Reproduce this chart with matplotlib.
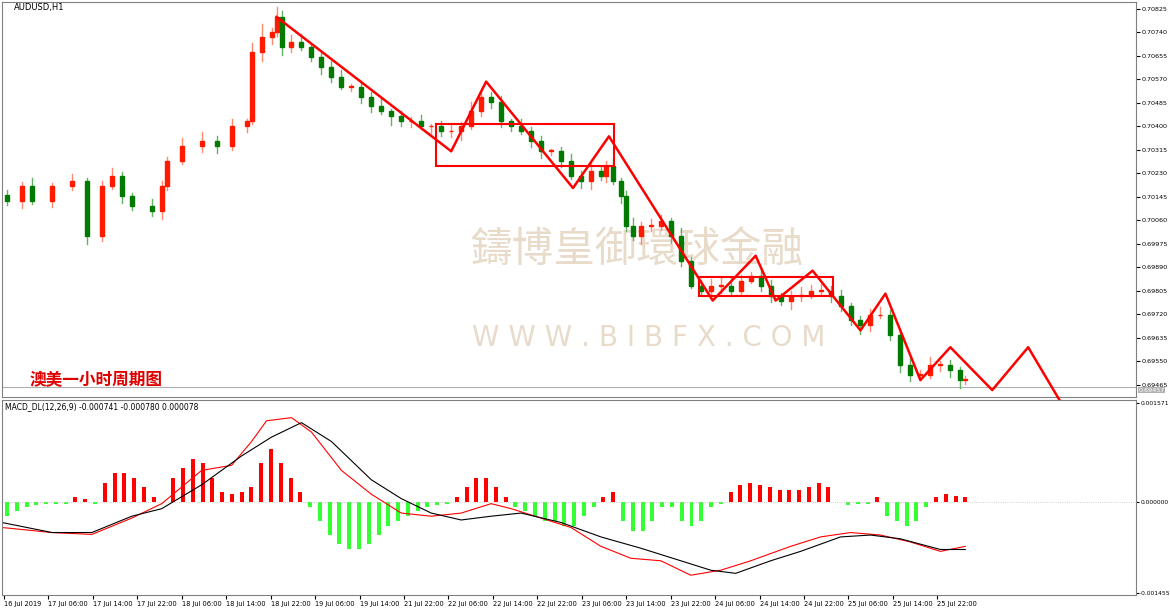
import numpy as np
import matplotlib
matplotlib.use("Agg")
import matplotlib.pyplot as plt
from matplotlib.patches import Rectangle

plt.rcParams['font.family'] = ['DejaVu Sans', 'Noto Sans CJK SC']

bar_x = [5,20,30,50,70,85,100,110,120,130,150,160,165,180,200,215,230,245,250,260,270,275,280,
         290,300,310,320,330,340,350,360,370,380,390,400,410,420,430,440,450,460,470,480,490,500,
         510,520,530,540,550,560,570,580,590,600,605,612,620,625,632,640,650,660,670,680,690,700,
         710,720,730,740,750,760,770,780,790,800,810,820,830,840,850,860,870,880,890,900,910,920,
         930,940,950,960,965]
closes = [0.70130,0.70184,0.70130,0.70184,0.70202,0.70004,0.70184,0.70220,0.70148,0.70112,0.70094,0.70184,0.70274,0.70328,0.70346,0.70328,0.70400,0.70418,0.70670,0.70724,0.70742,0.70796,0.70688,0.70706,0.70688,0.70652,0.70616,0.70580,0.70544,0.70544,0.70508,0.70472,0.70454,0.70436,0.70418,0.70418,0.70400,0.70400,0.70382,0.70382,0.70400,0.70454,0.70508,0.70490,0.70418,0.70400,0.70382,0.70346,0.70310,0.70310,0.70274,0.70220,0.70202,0.70238,0.70220,0.70256,0.70202,0.70148,0.70040,0.70004,0.70040,0.70040,0.70058,0.70004,0.69914,0.69824,0.69806,0.69824,0.69824,0.69806,0.69842,0.69860,0.69824,0.69788,0.69770,0.69788,0.69788,0.69806,0.69806,0.69788,0.69752,0.69698,0.69680,0.69716,0.69716,0.69644,0.69536,0.69500,0.69500,0.69536,0.69536,0.69518,0.69482,0.69482]
wick_up = [20,15,30,10,25,10,20,30,15,10,25,20,15,30,35,20,25,10,30,45,15,35,20,25,30,10,15,20,25,10,20,15,30,10,20,15,25,10,20,30,15,35,25,15,20,10,25,15,20,10,15,25,20,30,15,20,25,10,20,30,15,25,20,10,30,15,20,25,35,30,20,15,25,20,10,15,30,20,25,15,20,10,15,25,30,20,15,25,20,30,15,20,10,15]
wick_dn = [15,25,10,20,15,30,20,10,25,15,20,30,15,10,20,25,15,20,10,35,25,15,30,20,10,15,25,20,10,15,25,20,10,30,15,20,10,25,15,20,30,10,15,25,20,15,10,20,25,15,20,10,25,30,15,20,10,25,20,15,30,20,15,25,20,10,15,30,25,20,15,10,20,25,15,30,20,10,15,25,20,15,30,20,10,15,25,20,15,10,20,25,30,15]
price_now = 0.69457

hist_e5 = [-23,-15,-8,-5,-3,-3,-3,8,5,-3,30,46,46,38,23,8,0,38,53,68,61,38,15,12,15,23,61,84,61,38,15,-8,-30,-53,-68,-76,-76,-68,-53,-38,-30,-23,-15,-8,-5,-3,8,23,38,38,23,8,-8,-15,-23,-30,-30,-38,-38,-23,-8,8,15,-30,-46,-46,-30,-8,-8,-30,-38,-30,-8,-3,15,27,30,27,23,18,18,18,23,30,23,0,-5,-3,-3,8,-23,-30,-38,-30,-8,8,12,9,8]
macd_x = [0,50,90,130,160,200,230,250,265,290,310,340,370,400,430,460,490,510,540,570,600,630,660,690,720,750,790,820,850,880,910,940,965]
macd_main = [-0.00041,-0.00049,-0.00052,-0.00026,-0.00003,0.00050,0.00058,0.00096,0.00129,0.00134,0.00111,0.00050,0.00012,-0.00018,-0.00023,-0.00018,-0.00003,-0.00011,-0.00026,-0.00041,-0.00071,-0.00090,-0.00094,-0.00117,-0.00109,-0.00094,-0.00071,-0.00056,-0.00049,-0.00053,-0.00064,-0.00079,-0.00071]
sig_x = [0,50,90,130,160,200,240,270,300,330,370,400,430,460,490,520,560,600,640,680,710,735,770,800,840,870,900,940,965]
macd_signal = [-0.00033,-0.00049,-0.00049,-0.00023,-0.00011,0.00027,0.00073,0.00103,0.00126,0.00096,0.00035,0.00005,-0.00018,-0.00029,-0.00023,-0.00018,-0.00033,-0.00056,-0.00074,-0.00094,-0.00109,-0.00114,-0.00094,-0.00079,-0.00056,-0.00053,-0.00059,-0.00076,-0.00076]

zig_x = [275,450,485,572,608,712,755,775,812,860,885,920,950,992,1028,1070]
zig_p = [0.70796,0.70310,0.70562,0.70177,0.70364,0.69770,0.69932,0.69770,0.69878,0.69662,0.69795,0.69482,0.69601,0.69446,0.69601,0.69345]
rect1 = (435, 0.70256, 178, 0.00151)
rect2 = (698, 0.69788, 134, 0.00068)

yticks = [0.70825,0.70740,0.70655,0.70570,0.70485,0.70400,0.70315,0.70230,0.70145,0.70060,0.69975,0.69890,0.69805,0.69720,0.69635,0.69550,0.69465]
xlabels = ["16 Jul 2019","17 Jul 06:00","17 Jul 14:00","17 Jul 22:00","18 Jul 06:00","18 Jul 14:00","18 Jul 22:00","19 Jul 06:00","19 Jul 14:00","21 Jul 22:00","22 Jul 06:00","22 Jul 14:00","22 Jul 22:00","23 Jul 06:00","23 Jul 14:00","23 Jul 22:00","24 Jul 06:00","24 Jul 14:00","24 Jul 22:00","25 Jul 06:00","25 Jul 14:00","25 Jul 22:00"]

W, H = 1170, 614
fig = plt.figure(figsize=(W/100, H/100), dpi=100)
R = 1136
ax = fig.add_axes([2/W, 1-397/H, (R-2)/W, 395/H])
ax2 = fig.add_axes([2/W, 1-595/H, (R-2)/W, 195/H])
for a in (ax, ax2):
    a.set_xlim(0, R)
    a.yaxis.tick_right()
    a.tick_params(axis='y', labelsize=4.6, length=3, pad=1)
    for s in a.spines.values():
        s.set_color('#808080')
ax2.tick_params(axis='y', labelsize=4.3, length=2, pad=1)
ax.set_ylim(0.69421, 0.70850)
ax.set_yticks(yticks)
ax.set_yticklabels([f"{t:.5f}" for t in yticks])
ax.set_xticks([])

n = min(len(closes), len(bar_x))
bw = 4
opens = [closes[0] + 0.0002] + closes[:-1]
for i in range(n):
    o, c = opens[i], closes[i]
    x = bar_x[i]
    col = '#ff1a00' if c >= o else '#007a00'
    wcol = '#ff8a70' if c >= o else '#66b266'
    hi = max(o, c) + wick_up[i]*1e-5
    lo = min(o, c) - wick_dn[i]*1e-5
    ax.plot([x, x], [lo, hi], color=wcol, lw=1, zorder=2)
    h = max(abs(c-o), 0.00003)
    ax.add_patch(Rectangle((x-bw/2, min(o, c)), bw, h, color=col, zorder=3))

ax.axhline(price_now, color='#b0b0b0', lw=0.8, zorder=1)
ax.text(1.002, price_now - 0.00012, f"{price_now:.5f}", transform=ax.get_yaxis_transform(), fontsize=4.6,
        color='white', va='center', bbox=dict(fc='#b0b0b0', ec='none', pad=0.3))

ax.add_patch(Rectangle(rect1[:2], rect1[2], rect1[3], fill=False, ec='red', lw=1.5, zorder=4))
ax.add_patch(Rectangle(rect2[:2], rect2[2], rect2[3], fill=False, ec='red', lw=1.5, zorder=4))
ax.plot(zig_x, zig_p, color='red', lw=1.8, zorder=5, clip_on=False)

ax.text(28, 0.69482, "澳美一小时周期图", family=['Noto Sans CJK SC'], fontsize=12, fontweight='bold',
        color='#e00000', va='center')
ax.text(12, 0.70830, "AUDUSD,H1", fontsize=6, va='center')
ax.text(0.56, 0.37, "鑄博皇御環球金融", transform=ax.transAxes, family=['Noto Sans CJK TC'], fontsize=30,
        color='#d9c3a8', alpha=0.6, ha='center', va='center', zorder=0)
ax.text(0.57, 0.15, "W W W . B I B F X . C O M", transform=ax.transAxes, fontsize=20,
        color='#d9c3a8', alpha=0.6, ha='center', va='center', zorder=0)

ax2.set_ylim(-0.001455 - 0.00003, 0.001571 + 0.00005)
ax2.set_yticks([0.001571, 0.0, -0.001455])
ax2.set_yticklabels(["0.001571", "0.000000", "-0.001455"])
ax2.axhline(0, color='#c0c0c0', lw=0.6, ls=':')
hx = np.linspace(5, 965, len(hist_e5))
hv = np.array(hist_e5) * 1e-5
ax2.bar(hx, hv, width=4, color=['#ff0000' if v > 0 else '#33ff33' for v in hv])
ax2.plot(macd_x, macd_main, color='red', lw=0.8)
ax2.plot(sig_x, macd_signal, color='black', lw=0.8)
ax2.text(3, 0.00152, "MACD_DL(12,26,9) -0.000741 -0.000780 0.000078", fontsize=5.5, va='center')
tx = np.linspace(2, 937, len(xlabels))
ax2.set_xticks(tx)
ax2.set_xticklabels(xlabels, fontsize=4.8, ha='left')
ax2.tick_params(axis='x', length=3, pad=1)

fig.savefig("out.png", dpi=100, facecolor='white')
